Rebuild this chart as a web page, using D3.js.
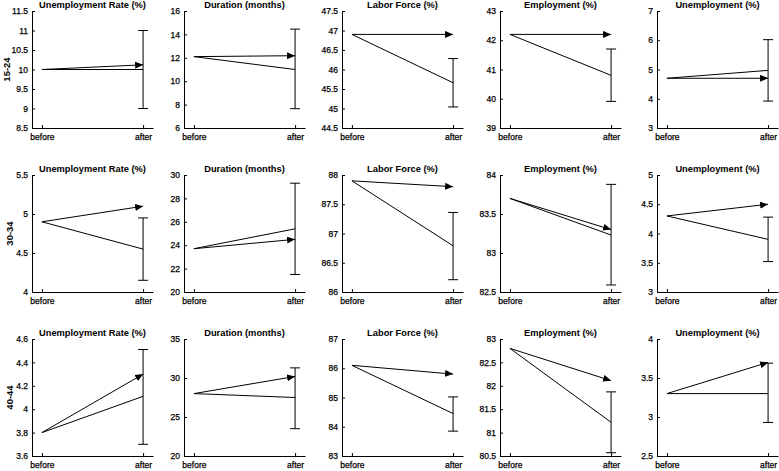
<!DOCTYPE html>
<html>
<head>
<meta charset="utf-8">
<script src="https://cdn.jsdelivr.net/npm/d3@7"></script>
<style>
  html, body { margin: 0; padding: 0; background: #fff; }
  svg { display: block; font-family: "Liberation Sans", Arial, Helvetica, sans-serif; }
</style>
</head>
<body>
<svg id="chart" width="779" height="471"></svg>
<script>
// ---------------- data ----------------
const rowLabels = ["15-24", "30-34", "40-44"];
const panelTitles = ["Unemployment Rate (%)", "Duration (months)", "Labor Force (%)", "Employment (%)", "Unemployment (%)"];
const xCategories = ["before", "after"];

// y-axis domains per row / panel
const yDomains = [
  [[8.5, 11.5], [6, 16], [44.5, 47.5], [39, 43], [3, 7]],
  [[4, 5.5], [20, 30], [86, 88], [82.5, 84], [3, 5]],
  [[3.6, 4.6], [20, 35], [83, 87], [80.5, 83], [2.5, 4]]
];
// tick values per row / panel
const yTickValues = [
  [[8.5, 9, 9.5, 10, 10.5, 11, 11.5], [6, 8, 10, 12, 14, 16], [44.5, 45, 45.5, 46, 46.5, 47, 47.5], [39, 40, 41, 42, 43], [3, 4, 5, 6, 7]],
  [[4, 4.5, 5, 5.5], [20, 22, 24, 26, 28, 30], [86, 86.5, 87, 87.5, 88], [82.5, 83, 83.5, 84], [3, 3.5, 4, 4.5, 5]],
  [[3.6, 3.8, 4, 4.2, 4.4, 4.6], [20, 25, 30, 35], [83, 84, 85, 86, 87], [80.5, 81, 81.5, 82, 82.5, 83], [2.5, 3, 3.5, 4]]
];
// tick labels per row / panel
const yTickLabels = [
  [["8.5", "9", "9.5", "10", "10.5", "11", "11.5"], ["6", "8", "10", "12", "14", "16"], ["44.5", "45", "45.5", "46", "46.5", "47", "47.5"], ["39", "40", "41", "42", "43"], ["3", "4", "5", "6", "7"]],
  [["4", "4.5", "5", "5.5"], ["20", "22", "24", "26", "28", "30"], ["86", "86.5", "87", "87.5", "88"], ["82.5", "83", "83.5", "84"], ["3", "3.5", "4", "4.5", "5"]],
  [["3.6", "3.8", "4", "4.2", "4.4", "4.6"], ["20", "25", "30", "35"], ["83", "84", "85", "86", "87"], ["80.5", "81", "81.5", "82", "82.5", "83"], ["2.5", "3", "3.5", "4"]]
];

// value before (common start point)
const beforeValues = [
  [10.0, 12.1, 46.9, 42.2, 4.7],
  [4.9, 23.7, 87.9, 83.7, 4.3],
  [3.8, 28.0, 86.1, 82.8, 3.3]
];
// arrow end (after)
const arrowValues = [
  [10.12, 12.18, 46.9, 42.2, 4.7],
  [5.1, 24.5, 87.8, 83.3, 4.5],
  [4.3, 30.2, 85.8, 82.11, 3.7]
];
// plain line end (after), with error bar
const afterValues = [
  [10.0, 11.0, 45.66, 40.8, 4.97],
  [4.55, 25.4, 86.79, 83.23, 3.9],
  [4.11, 27.5, 84.45, 81.22, 3.3]
];
const errLow = [
  [9.0, 7.65, 45.04, 39.91, 3.92],
  [4.15, 21.5, 86.21, 82.59, 3.52],
  [3.7, 23.5, 83.85, 80.57, 2.93]
];
const errHigh = [
  [11.0, 14.45, 46.28, 41.7, 6.02],
  [4.95, 29.3, 87.36, 83.88, 4.28],
  [4.51, 31.3, 85.02, 81.87, 3.69]
];

// ---------------- layout ----------------
const panelLefts = [32, 184, 342, 500, 657];
const panelWidth = 121;
const rowTops = [11, 175, 339];
const panelHeight = 117;
const rowLabelX = [9.5, 13, 13];

const svg = d3.select("#chart");
svg.append("rect").attr("width", 779).attr("height", 471).attr("fill", "#fff");

svg.append("defs").append("marker")
  .attr("id", "arrow")
  .attr("markerUnits", "userSpaceOnUse")
  .attr("markerWidth", 10).attr("markerHeight", 8)
  .attr("refX", 8).attr("refY", 3.5)
  .attr("orient", "auto")
  .append("path")
  .attr("d", "M0,0 L8,3.5 L0,7 Z")
  .attr("fill", "#000");

rowLabels.forEach((rl, r) => {
  const top = rowTops[r];
  svg.append("text")
    .attr("transform", `translate(${rowLabelX[r]},${top + panelHeight / 2}) rotate(-90)`)
    .attr("text-anchor", "middle")
    .attr("font-size", 9.5)
    .attr("font-weight", "bold")
    .attr("fill", "#000")
    .text(rl);

  panelTitles.forEach((title, c) => {
    const left = panelLefts[c];
    const g = svg.append("g");
    const x = d3.scalePoint().domain(xCategories)
      .range([left, left + panelWidth]).padding(10 / 102);
    const y = d3.scaleLinear().domain(yDomains[r][c]).range([top + panelHeight, top]);

    // axes
    const labels = yTickLabels[r][c];
    const yAxis = d3.axisLeft(y).tickValues(yTickValues[r][c])
      .tickFormat((d, i) => labels[i])
      .tickSizeInner(-3).tickSizeOuter(0).tickPadding(4);
    const ya = g.append("g").attr("transform", `translate(${left},0)`).call(yAxis);
    const xAxis = d3.axisBottom(x).tickSizeInner(-3).tickSizeOuter(0).tickPadding(6);
    const xa = g.append("g").attr("transform", `translate(0,${top + panelHeight})`).call(xAxis);
    [ya, xa].forEach(a => {
      a.selectAll("text").attr("font-size", 8.5).attr("fill", "#000")
        .attr("stroke", "#000").attr("stroke-width", 0.25)
        .attr("font-family", "'Liberation Sans', Arial, sans-serif");
      a.selectAll("path, line").attr("stroke", "#000");
    });

    // title
    g.append("text")
      .attr("x", left + panelWidth / 2)
      .attr("y", top - 2.6)
      .attr("text-anchor", "middle")
      .attr("font-size", 9.3)
      .attr("font-weight", "bold")
      .attr("fill", "#000")
      .text(title);

    const xb = x("before"), xaft = x("after");
    // plain line
    g.append("line")
      .attr("x1", xb).attr("y1", y(beforeValues[r][c]))
      .attr("x2", xaft).attr("y2", y(afterValues[r][c]))
      .attr("stroke", "#000").attr("stroke-width", 1);
    // error bar
    const cap = 5;
    g.append("line")
      .attr("x1", xaft).attr("x2", xaft)
      .attr("y1", y(errLow[r][c])).attr("y2", y(errHigh[r][c]))
      .attr("stroke", "#000").attr("stroke-width", 1);
    [errLow[r][c], errHigh[r][c]].forEach(v => {
      g.append("line")
        .attr("x1", xaft - cap).attr("x2", xaft + cap)
        .attr("y1", y(v)).attr("y2", y(v))
        .attr("stroke", "#000").attr("stroke-width", 1);
    });
    // arrow
    g.append("line")
      .attr("x1", xb).attr("y1", y(beforeValues[r][c]))
      .attr("x2", xaft).attr("y2", y(arrowValues[r][c]))
      .attr("stroke", "#000").attr("stroke-width", 1)
      .attr("marker-end", "url(#arrow)");
  });
});
</script>
</body>
</html>
